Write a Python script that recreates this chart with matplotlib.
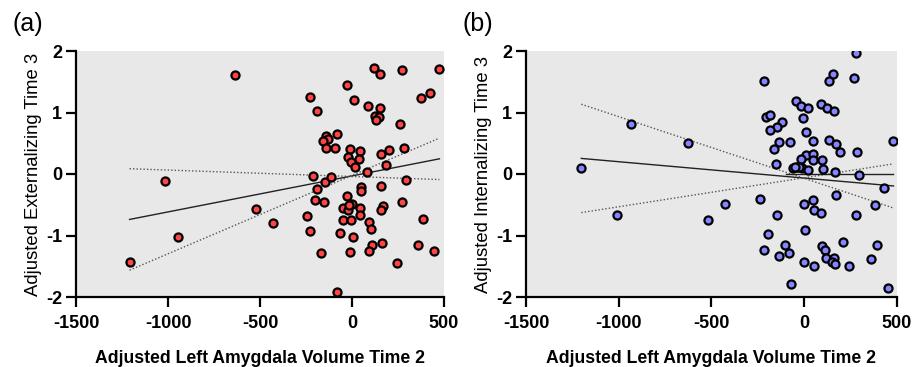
import numpy as np
import matplotlib
matplotlib.use("Agg")
import matplotlib.pyplot as plt

plt.rcParams['font.family'] = ['Liberation Sans', 'DejaVu Sans']

# ---- data: panel (a) Externalizing ----
ext_x = [-634, 117, 152, 274, 475, -29, -226, 9, -188, 85, 150, 125, 148, 130, 377, 422, 260,
         -83, -143, -130, -159, -141, -92, -11, 43, 159, 202, 280, -22, 36, -4, 16, 184, 83,
         -211, -148, -112, -188, 51, 49, 159, 291, -1016, -25, -199, -152, -2, -51, -23, -14,
         43, 43, 166, 159, 271, -522, -244, -430, -47, -7, 90, 103, 388, -226, -65, 4, -944,
         108, 164, 357, -168, -9, 92, 446, 242, -1209, -81]
ext_y = [1.61, 1.73, 1.62, 1.69, 1.70, 1.45, 1.25, 1.21, 1.03, 1.10, 1.08, 0.95, 0.92, 0.87,
         1.24, 1.31, 0.82, 0.65, 0.62, 0.57, 0.54, 0.42, 0.42, 0.41, 0.38, 0.33, 0.39, 0.42,
         0.27, 0.25, 0.19, 0.12, 0.14, 0.03, -0.03, -0.13, -0.05, -0.25, -0.21, -0.28, -0.20,
         -0.09, -0.11, -0.36, -0.43, -0.45, -0.49, -0.56, -0.59, -0.51, -0.56, -0.66, -0.52,
         -0.59, -0.46, -0.57, -0.68, -0.80, -0.75, -0.75, -0.78, -0.90, -0.73, -0.93, -0.96,
         -1.03, -1.02, -1.15, -1.13, -1.16, -1.28, -1.27, -1.26, -1.26, -1.44, -1.43, -1.92]

# ---- data: panel (b) Internalizing ----
int_x = [281, 155, 135, 268, -218, -43, -18, 22, 88, 124, 158, -205, -182, -7, -122, -146, -184,
         7, -936, -135, -76, 47, 133, 171, 191, 286, 481, -164, -626, 9, 47, -16, 47, 97, -151,
         -63, -41, -14, 22, 103, 164, 295, -1202, 430, 171, -239, 45, -4, -425, 54, 90, 382,
         277, -146, -1012, -517, 2, -194, -104, -83, -137, -218, 94, 112, 115, 160, 149, 164,
         207, -4, 54, 243, 391, 362, -74, 450, -30, -50]
int_y = [1.97, 1.62, 1.51, 1.56, 1.52, 1.18, 1.10, 1.08, 1.14, 1.07, 1.03, 0.93, 0.96, 0.91,
         0.84, 0.77, 0.71, 0.69, 0.81, 0.52, 0.52, 0.53, 0.55, 0.48, 0.36, 0.36, 0.54, 0.40,
         0.50, 0.31, 0.33, 0.24, 0.22, 0.23, 0.16, 0.10, 0.12, 0.09, 0.07, 0.08, 0.03, -0.01,
         0.10, -0.23, -0.34, -0.41, -0.42, -0.49, -0.48, -0.58, -0.63, -0.51, -0.67, -0.67,
         -0.67, -0.75, -0.91, -0.97, -1.16, -1.28, -1.33, -1.24, -1.17, -1.24, -1.37, -1.36,
         -1.43, -1.47, -1.11, -1.43, -1.49, -1.50, -1.16, -1.38, -1.79, -1.85, 0.11, 0.12]

x_ticks = [-1500, -1000, -500, 0, 500]
y_ticks = [-2, -1, 0, 1, 2]
x_label = "Adjusted Left Amygdala Volume Time 2"
y_labels = ["Adjusted Externalizing Time 3", "Adjusted Internalizing Time 3"]
panel_tags = ["(a)", "(b)"]
face_colors = ["#ff4444", "#8585ff"]
zero_ref_x = [-100, 480]   # short horizontal reference segment visible in panel (b)

fig = plt.figure(figsize=(9.16, 3.67), dpi=100)
ax_a = fig.add_axes([76/916, (367-297)/367, 368/916, 246/367])
ax_b = fig.add_axes([526/916, (367-297)/367, 371/916, 246/367])


def fit_lines(x, y, xs, t=1.99):
    """Regression line plus lines through the mean with slope at the 95% CI limits."""
    x = np.asarray(x, float); y = np.asarray(y, float)
    b, a = np.polyfit(x, y, 1)
    n = len(x)
    resid = y - (a + b * x)
    s = np.sqrt(np.sum(resid**2) / (n - 2))
    sxx = np.sum((x - x.mean())**2)
    se_b = s / np.sqrt(sxx)
    yh = a + b * xs
    lo = y.mean() + (b - t * se_b) * (xs - x.mean())
    hi = y.mean() + (b + t * se_b) * (xs - x.mean())
    return yh, lo, hi


for i, (ax, xs_, ys_) in enumerate([(ax_a, ext_x, ext_y), (ax_b, int_x, int_y)]):
    ax.set_facecolor("#e8e8e8")
    xl = np.array([min(xs_), max(xs_)], float)
    yh, lo, hi = fit_lines(xs_, ys_, xl)
    ax.plot(xl, yh, color="#222222", lw=1.0, zorder=2)
    ax.plot(xl, lo, color="#555555", lw=1.0, ls=(0, (1, 1.5)), zorder=2)
    ax.plot(xl, hi, color="#555555", lw=1.0, ls=(0, (1, 1.5)), zorder=2)
    if i == 1:
        ax.plot(zero_ref_x, [0, 0], color="#222222", lw=1.0, zorder=2)
    ax.scatter(xs_, ys_, s=34, facecolor=face_colors[i], edgecolor="black",
               linewidth=1.6, zorder=3)
    ax.set_xlim(-1500, 500)
    ax.set_ylim(-2, 2)
    ax.set_xticks(x_ticks)
    ax.set_yticks(y_ticks)
    ax.set_xticklabels([str(v) for v in x_ticks], fontweight="bold", fontsize=13)
    ax.set_yticklabels([str(v) for v in y_ticks], fontweight="bold", fontsize=13)
    for sp in ["top", "right"]:
        ax.spines[sp].set_visible(False)
    for sp in ["left", "bottom"]:
        ax.spines[sp].set_linewidth(1.6)
    ax.tick_params(axis="x", direction="out", length=7, width=1.6, pad=6)
    ax.tick_params(axis="y", direction="out", length=7, width=1.6, pad=3)
    ax.set_xlabel(x_label, fontweight="bold", fontsize=12.7, labelpad=13)
    ax.set_ylabel(y_labels[i], fontsize=13.3, labelpad=3)

fig.text(12/916, 1 - 24/367, panel_tags[0], fontsize=18, va="center", ha="left")
fig.text(462/916, 1 - 24/367, panel_tags[1], fontsize=18, va="center", ha="left")

fig.savefig("out.png", dpi=100)
